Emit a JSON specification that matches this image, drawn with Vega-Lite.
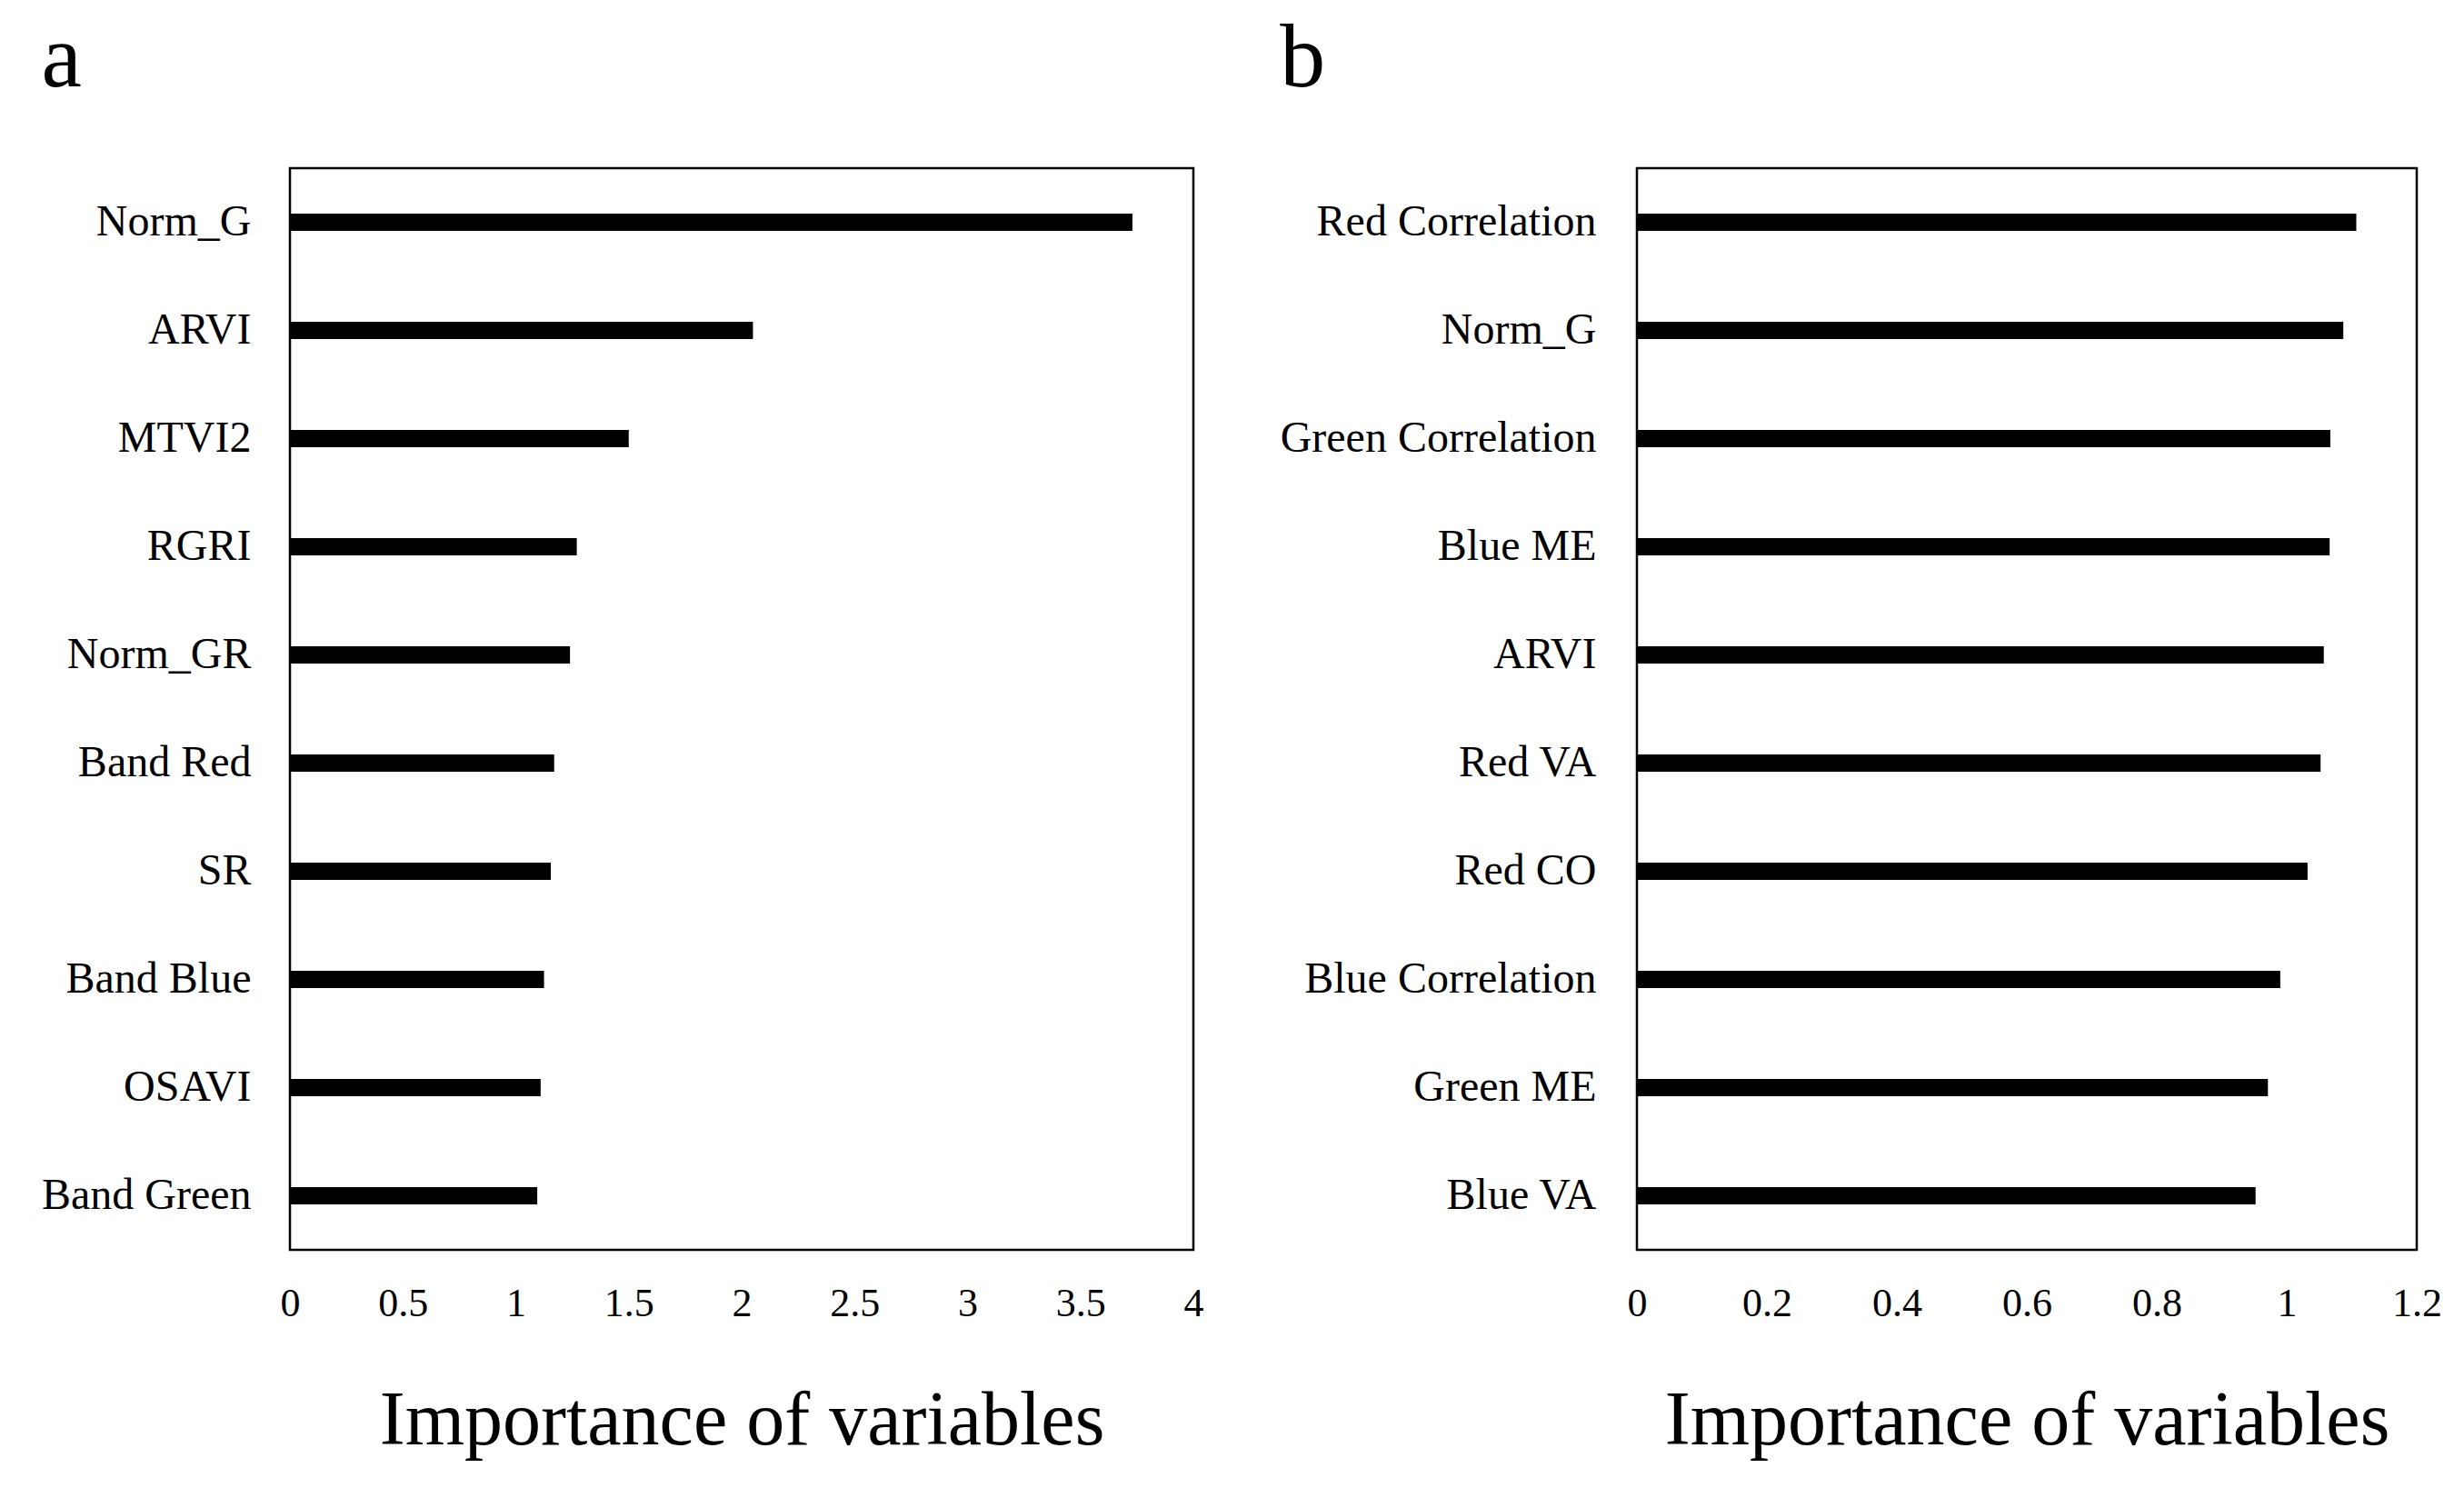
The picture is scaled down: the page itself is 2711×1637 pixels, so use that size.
{
  "$schema": "https://vega.github.io/schema/vega-lite/v6.json",
  "padding": {"left": 44, "top": 13, "right": 5, "bottom": 5},
  "background": "white",
  "spacing": 80,
  "config": {
    "font": "Liberation Serif",
    "view": {"stroke": "black", "strokeWidth": 2.5},
    "axis": {
      "labelColor": "black",
      "titleColor": "black",
      "ticks": false,
      "tickSize": 0,
      "domain": false,
      "grid": false,
      "labelFont": "Liberation Serif",
      "titleFont": "Liberation Serif",
      "titleFontWeight": "normal",
      "labelLimit": 0,
      "labelFlush": false
    },
    "title": {
      "anchor": "start",
      "frame": "bounds",
      "fontSize": 100,
      "fontWeight": "normal",
      "font": "Liberation Serif",
      "baseline": "alphabetic",
      "offset": 69,
      "color": "black"
    }
  },
  "hconcat": [
    {
      "title": {"text": "a"},
      "width": 994,
      "height": 1190,
      "data": {
        "values": [
          {"variable": "Norm_G", "importance": 3.73},
          {"variable": "ARVI", "importance": 2.05},
          {"variable": "MTVI2", "importance": 1.50},
          {"variable": "RGRI", "importance": 1.27},
          {"variable": "Norm_GR", "importance": 1.24},
          {"variable": "Band Red", "importance": 1.17},
          {"variable": "SR", "importance": 1.155},
          {"variable": "Band Blue", "importance": 1.125},
          {"variable": "OSAVI", "importance": 1.11},
          {"variable": "Band Green", "importance": 1.095}
        ]
      },
      "mark": {"type": "bar", "color": "black", "height": {"band": 0.16}},
      "encoding": {
        "y": {
          "field": "variable",
          "type": "nominal",
          "sort": null,
          "scale": {"paddingInner": 0, "paddingOuter": 0},
          "axis": {"title": null, "labelFontSize": 48, "labelPadding": 43}
        },
        "x": {
          "field": "importance",
          "type": "quantitative",
          "scale": {"domain": [0, 4], "nice": false},
          "axis": {
            "values": [0, 0.5, 1, 1.5, 2, 2.5, 3, 3.5, 4],
            "format": "~g",
            "labelFontSize": 44,
            "labelPadding": 37,
            "title": "Importance of variables",
            "titleFontSize": 84,
            "titlePadding": 66
          }
        }
      }
    },
    {
      "title": {"text": "b"},
      "width": 858,
      "height": 1190,
      "data": {
        "values": [
          {"variable": "Red Correlation", "importance": 1.107},
          {"variable": "Norm_G", "importance": 1.087},
          {"variable": "Green Correlation", "importance": 1.067},
          {"variable": "Blue ME", "importance": 1.066},
          {"variable": "ARVI", "importance": 1.057},
          {"variable": "Red VA", "importance": 1.052},
          {"variable": "Red CO", "importance": 1.032},
          {"variable": "Blue Correlation", "importance": 0.99},
          {"variable": "Green ME", "importance": 0.971},
          {"variable": "Blue VA", "importance": 0.952}
        ]
      },
      "mark": {"type": "bar", "color": "black", "height": {"band": 0.16}},
      "encoding": {
        "y": {
          "field": "variable",
          "type": "nominal",
          "sort": null,
          "scale": {"paddingInner": 0, "paddingOuter": 0},
          "axis": {"title": null, "labelFontSize": 48, "labelPadding": 45}
        },
        "x": {
          "field": "importance",
          "type": "quantitative",
          "scale": {"domain": [0, 1.2], "nice": false},
          "axis": {
            "values": [0, 0.2, 0.4, 0.6, 0.8, 1, 1.2],
            "format": "~g",
            "labelFontSize": 44,
            "labelPadding": 37,
            "title": "Importance of variables",
            "titleFontSize": 84,
            "titlePadding": 66
          }
        }
      }
    }
  ]
}
